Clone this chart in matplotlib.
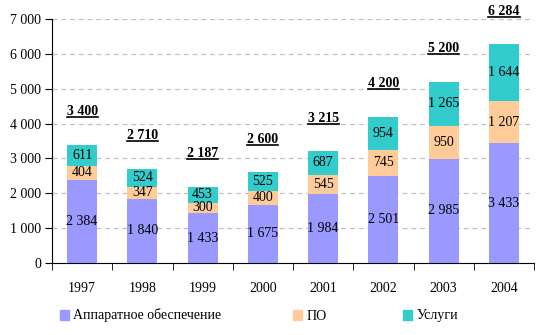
import numpy as np
import matplotlib.pyplot as plt
from matplotlib.patches import Patch
from matplotlib.ticker import FuncFormatter, FixedLocator

years = ['1997', '1998', '1999', '2000', '2001', '2002', '2003', '2004']
hardware = [2384, 1840, 1433, 1675, 1984, 2501, 2985, 3433]
software = [404, 347, 300, 400, 545, 745, 950, 1207]
services = [611, 524, 453, 525, 687, 954, 1265, 1644]
totals = [3400, 2710, 2187, 2600, 3215, 4200, 5200, 6284]

names = ['Аппаратное обеспечение', 'ПО', 'Услуги']
colors = ['#9999FF', '#FFCC99', '#33CCCC']

plt.rcParams['font.family'] = ['Liberation Serif', 'DejaVu Serif']
fs = 10


def spaced(v, pos=None):
    return '{:,}'.format(int(v)).replace(',', ' ')


fig = plt.figure(figsize=(5.38, 3.35), dpi=100)
ax = fig.add_axes([52 / 538, 1 - 263 / 335, 482 / 538, 244 / 335])

x = np.arange(len(years))
bottom = np.zeros(len(years))
for series, name, c in zip([hardware, software, services], names, colors):
    ax.bar(x, series, 0.5, bottom=bottom, color=c, label=name, zorder=2)
    for xi, b, v in zip(x, bottom, series):
        ax.text(xi, b + v / 2, spaced(v), ha='center', va='center', fontsize=fs, zorder=3)
    bottom += np.array(series)

# totals over each stack, bold and underlined
tot_texts = []
for xi, t in zip(x, totals):
    tt = ax.annotate(spaced(t), (xi, t), xytext=(0, 19), textcoords='offset points',
                     ha='center', va='bottom', fontsize=fs, fontweight='bold')
    tot_texts.append(tt)

ax.set_xlim(-0.5, len(years) - 0.5)
ax.set_ylim(0, 7000)
ax.yaxis.set_major_locator(FixedLocator(range(0, 7001, 1000)))
ax.yaxis.set_major_formatter(FuncFormatter(spaced))
ax.set_xticks(x)
ax.set_xticklabels(years)
ax.set_xticks(np.arange(-0.5, len(years), 1), minor=True)
ax.tick_params(axis='x', which='major', length=0, pad=14, labelsize=fs)
ax.tick_params(axis='x', which='minor', length=5, direction='out')
ax.tick_params(axis='y', length=5, direction='out', labelsize=fs, pad=3)
ax.grid(axis='y', linestyle=(0, (4, 3)), color='#C0C0C0', linewidth=0.9, zorder=0)
ax.spines['top'].set_visible(False)
ax.spines['right'].set_visible(False)

# one legend entry per slot along the bottom
for name, c, lx in zip(names, colors, [47, 280, 390]):
    fig.legend(handles=[Patch(color=c, label=name)], loc='lower left',
               bbox_to_anchor=(lx / 538, 0.0), frameon=False, fontsize=fs,
               handlelength=0.7, handleheight=0.7, handletextpad=0.3)

fig.canvas.draw()
r = fig.canvas.get_renderer()
inv = fig.transFigure.inverted()
for tt in tot_texts:
    bb = tt.get_window_extent(r)
    (x0, y0), (x1, _) = inv.transform([(bb.x0, bb.y0 + 1), (bb.x1, bb.y0)])
    fig.add_artist(plt.Line2D([x0, x1], [y0, y0], color='black', linewidth=1.2,
                              transform=fig.transFigure))

fig.savefig('out.png', dpi=100, facecolor='white')
